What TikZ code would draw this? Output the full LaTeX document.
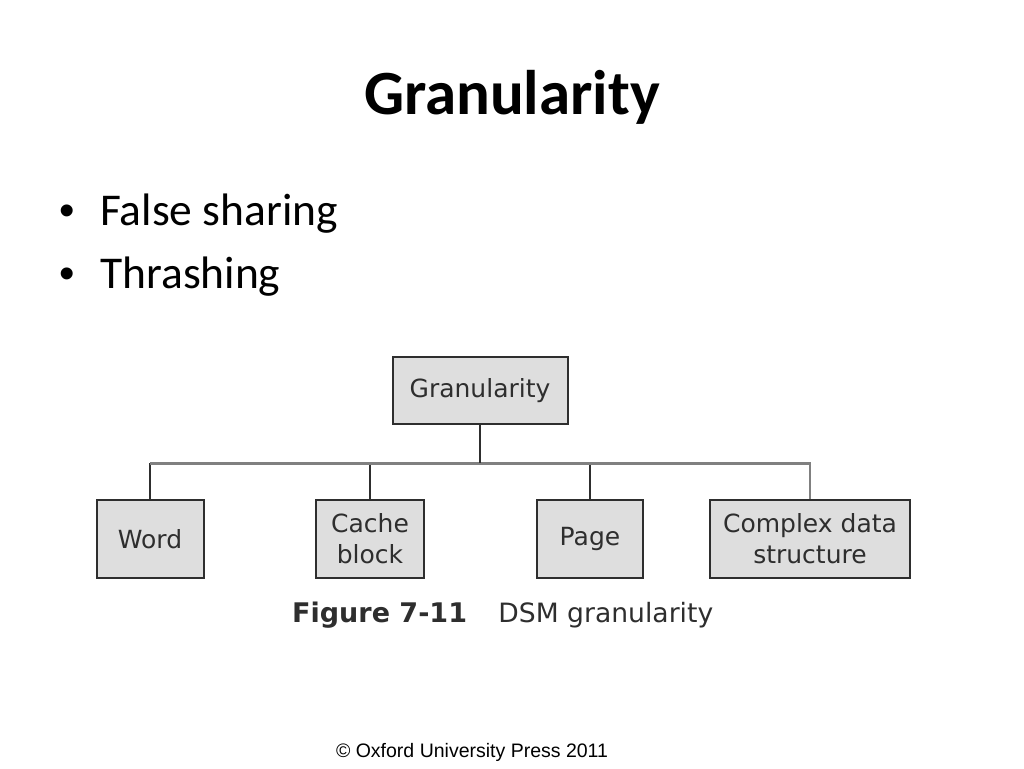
\documentclass[tikz,border=0pt]{standalone}
\usepackage{fontspec}
\setmainfont{Carlito}
\newfontfamily\boxfont{DejaVu Sans}
\newfontfamily\footfont{Liberation Sans}
\usetikzlibrary{trees,positioning}
\definecolor{boxfill}{HTML}{DEDEDE}
\definecolor{boxline}{HTML}{2E2E2E}
\definecolor{barline}{HTML}{808080}

\begin{document}
\begin{tikzpicture}
[x=1pt, y=1pt, level distance=148pt, sibling distance=220pt,
 gbox/.style={draw=boxline, line width=2pt, fill=boxfill, text=boxline, align=center,
   font=\boxfont\fontsize{25}{31}\selectfont, inner sep=0pt, minimum height=78pt},
 bullet/.style={anchor=base west, inner sep=0pt, font=\footfont\fontsize{44}{50}\selectfont},
 item/.style={anchor=base west, inner sep=0pt, font=\fontsize{45.5}{52}\selectfont},
 edge from parent/.style={draw=boxline, line width=1.6pt},
 edge from parent path={(\tikzparentnode.south) -- ++(0,-38pt) -| (\tikzchildnode.north)}]
\useasboundingbox (0,0) rectangle (1024,768);

\node (title) at (512,671) {\fontsize{63}{70}\selectfont\bfseries Granularity};
\node (b1) [bullet] at (59,542) {\textbullet};
\node (fs) [item] at (100,542) {False sharing};
\node (b2) [bullet] at (59,479) {\textbullet};
\node (th) [item] at (100,479) {Thrashing};

\node (gran) [gbox, minimum width=175pt, minimum height=67pt] at (480,377) {Granularity}
child { node (word) [gbox, minimum width=107pt] {Word} }
child { node (cache) [gbox, minimum width=108pt] {Cache\\block} }
child { node (page) [gbox, minimum width=106pt] {Page} }
child { node (cplx) [gbox, minimum width=200pt] {Complex data\\structure}
  edge from parent [draw=barline, line width=2pt] };
\coordinate (bar) at ([yshift=-38pt]gran.south);
\draw [barline, line width=3pt] (word.north |- bar) -- (cplx.north |- bar);
\draw [boxline, line width=1.6pt] (gran.south) -- (bar);

\node (fig) [anchor=west, inner sep=0pt, text=boxline] at (292,153)
  {\boxfont\fontsize{27}{30}\selectfont\bfseries Figure 7-11};
\node (dsm) [right=31pt of fig, inner sep=0pt, text=boxline]
  {\boxfont\fontsize{26.6}{30}\selectfont DSM granularity};

\node (copy) at (472,16) {\footfont\fontsize{19.5}{22}\selectfont \textcopyright{} Oxford University Press 2011};
\end{tikzpicture}
\end{document}
